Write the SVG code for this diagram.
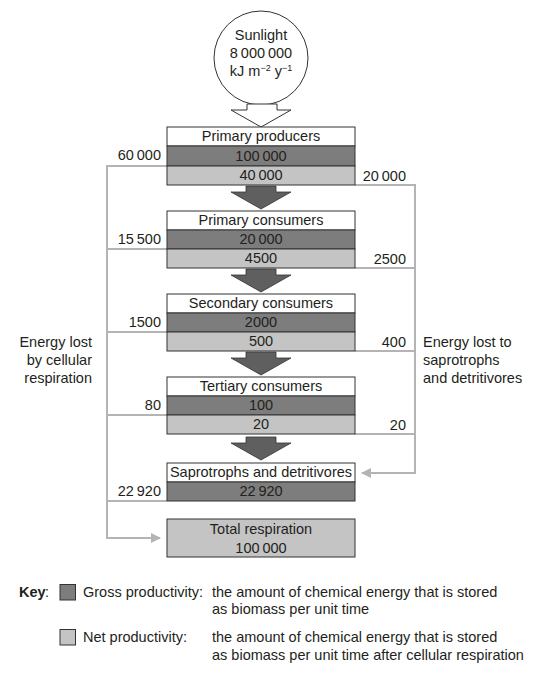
<svg xmlns="http://www.w3.org/2000/svg" width="555" height="673" viewBox="0 0 555 673">
<style>
text{font-family:"Liberation Sans",Arial,sans-serif;font-size:14.5px;fill:#231f20}
.c{text-anchor:middle}
.r{text-anchor:end}
.w{fill:#ffffff;stroke:#333;stroke-width:1}
.g{fill:#7d7d7d;stroke:#333;stroke-width:1}
.n{fill:#c4c4c4;stroke:#333;stroke-width:1}
.arr{fill:#5f5f5f;stroke:#333;stroke-width:0.8}
.ln{fill:none;stroke:#b4b4b4;stroke-width:2}
</style>
<defs>
<marker id="ah" viewBox="0 0 10 10" refX="9" refY="5" markerWidth="5" markerHeight="5" orient="auto" markerUnits="strokeWidth">
<path d="M0,0 L10,5 L0,10 z" fill="#b4b4b4"/>
</marker>
</defs>

<g id="sunlight">
<circle cx="261" cy="58" r="47" fill="#fff" stroke="#333" stroke-width="1"/>
<text class="c" x="261" y="40">Sunlight</text>
<text class="c" x="261" y="58">8&#8201;000&#8201;000</text>
<text class="c" x="261" y="76">kJ m<tspan font-size="9" dy="-5">−2</tspan><tspan dy="5"> y</tspan><tspan font-size="9" dy="-5">−1</tspan></text>
<polygon points="247,104 277,104 277,110 291,110 261,127 231,110 247,110" fill="#fff" stroke="#333" stroke-width="1"/>
</g>

<g id="connectors">
<polyline class="ln" points="167,166 107,166 107,538 160,538" marker-end="url(#ah)"/>
<line class="ln" x1="107" y1="249" x2="167" y2="249"/>
<line class="ln" x1="107" y1="332" x2="167" y2="332"/>
<line class="ln" x1="107" y1="415" x2="167" y2="415"/>
<line class="ln" x1="107" y1="501" x2="167" y2="501"/>
<polyline class="ln" points="355,185 415,185 415,473 362,473" marker-end="url(#ah)"/>
<line class="ln" x1="355" y1="268" x2="415" y2="268"/>
<line class="ln" x1="355" y1="351" x2="415" y2="351"/>
<line class="ln" x1="355" y1="434" x2="415" y2="434"/>
<polygon class="arr" points="246,186 276,186 276,192 291,192 261,209 231,192 246,192"/>
<polygon class="arr" points="246,269 276,269 276,275 291,275 261,292 231,275 246,275"/>
<polygon class="arr" points="246,352 276,352 276,358 291,358 261,375 231,358 246,358"/>
<polygon class="arr" points="246,437 276,437 276,443 291,443 261,460 231,443 246,443"/>
</g>

<g id="primary-producers">
<rect class="w" x="167" y="127" width="188" height="19"/>
<rect class="g" x="167" y="146" width="188" height="20"/>
<rect class="n" x="167" y="166" width="188" height="19"/>
<text class="c" x="261" y="141">Primary producers</text>
<text class="c" x="261" y="161">100&#8201;000</text>
<text class="c" x="261" y="180">40&#8201;000</text>
<text class="r" x="161" y="160">60&#8201;000</text>
<text class="r" x="406" y="181">20&#8201;000</text>
</g>

<g id="primary-consumers">
<rect class="w" x="167" y="211" width="188" height="19"/>
<rect class="g" x="167" y="230" width="188" height="19"/>
<rect class="n" x="167" y="249" width="188" height="19"/>
<text class="c" x="261" y="225">Primary consumers</text>
<text class="c" x="261" y="244">20&#8201;000</text>
<text class="c" x="261" y="263">4500</text>
<text class="r" x="161" y="244">15&#8201;500</text>
<text class="r" x="406" y="264">2500</text>
</g>

<g id="secondary-consumers">
<rect class="w" x="167" y="294" width="188" height="19"/>
<rect class="g" x="167" y="313" width="188" height="19"/>
<rect class="n" x="167" y="332" width="188" height="19"/>
<text class="c" x="261" y="308">Secondary consumers</text>
<text class="c" x="261" y="327">2000</text>
<text class="c" x="261" y="346">500</text>
<text class="r" x="161" y="327">1500</text>
<text class="r" x="406" y="347">400</text>
</g>

<g id="tertiary-consumers">
<rect class="w" x="167" y="377" width="188" height="19"/>
<rect class="g" x="167" y="396" width="188" height="19"/>
<rect class="n" x="167" y="415" width="188" height="19"/>
<text class="c" x="261" y="391">Tertiary consumers</text>
<text class="c" x="261" y="410">100</text>
<text class="c" x="261" y="429">20</text>
<text class="r" x="161" y="410">80</text>
<text class="r" x="406" y="430">20</text>
</g>

<g id="saprotrophs">
<rect class="w" x="167" y="463" width="188" height="19"/>
<rect class="g" x="167" y="482" width="188" height="19"/>
<text class="c" x="261" y="477">Saprotrophs and detritivores</text>
<text class="c" x="261" y="496">22&#8201;920</text>
<text class="r" x="161" y="496">22&#8201;920</text>
</g>

<g id="total-respiration">
<rect class="n" x="167" y="519" width="188" height="38"/>
<text class="c" x="261" y="534">Total respiration</text>
<text class="c" x="261" y="553">100&#8201;000</text>
</g>

<g id="label-left">
<text class="r" x="92" y="347">Energy lost</text>
<text class="r" x="92" y="365">by cellular</text>
<text class="r" x="92" y="383">respiration</text>
</g>

<g id="label-right">
<text x="423" y="347">Energy lost to</text>
<text x="423" y="365">saprotrophs</text>
<text x="423" y="383">and detritivores</text>
</g>

<g id="key">
<text x="19" y="597" font-weight="bold">Key</text><text x="45" y="597">:</text>
<rect x="60" y="584.5" width="15.5" height="15.5" fill="#7d7d7d" stroke="#333" stroke-width="1"/>
<text x="83" y="597">Gross productivity:</text>
<text x="212" y="597">the amount of chemical energy that is stored</text>
<text x="212" y="614">as biomass per unit time</text>
<rect x="60" y="629.5" width="15.5" height="15.5" fill="#c4c4c4" stroke="#333" stroke-width="1"/>
<text x="83" y="642">Net productivity:</text>
<text x="212" y="642">the amount of chemical energy that is stored</text>
<text x="212" y="660">as biomass per unit time after cellular respiration</text>
</g>
</svg>
